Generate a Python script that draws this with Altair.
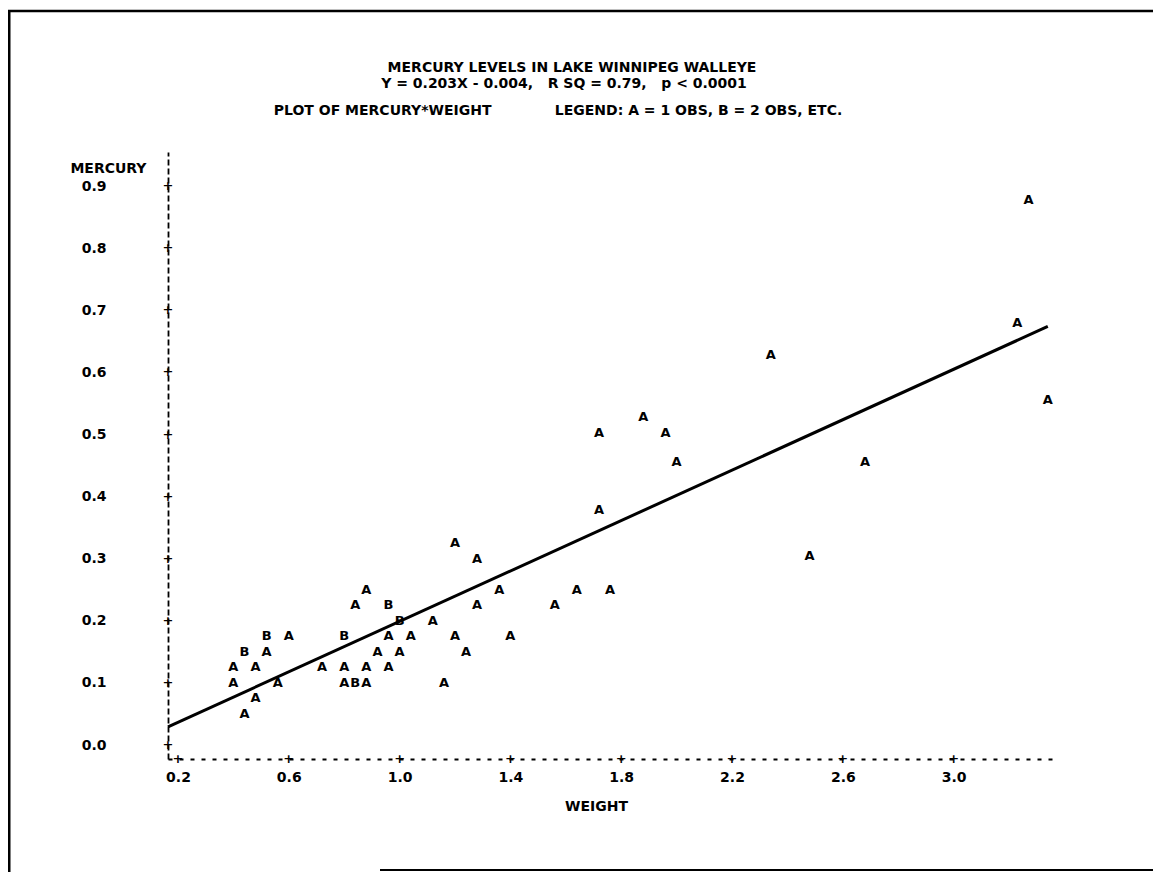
import altair as alt
import pandas as pd

# ---- data (SAS line-printer style scatter) ----
weight = [0.88, 0.84, 0.96, 1.00, 1.12, 1.28, 0.52, 0.60, 0.80, 0.96,
          1.04, 1.20, 0.44, 0.52, 0.92, 1.00, 1.24, 0.40, 0.48, 0.72,
          0.80, 0.88, 0.96, 0.40, 0.56, 0.80, 0.84, 0.88, 1.16, 0.48,
          0.44, 1.20, 1.28, 1.36, 1.56, 1.64, 1.76, 1.40, 3.34, 1.88,
          1.72, 1.96, 2.00, 2.68, 1.72, 2.48, 3.27, 3.23, 2.34]
mercury = [0.250, 0.225, 0.225, 0.200, 0.200, 0.225, 0.175, 0.175, 0.175, 0.175,
           0.175, 0.175, 0.150, 0.150, 0.150, 0.150, 0.150, 0.125, 0.125, 0.125,
           0.125, 0.125, 0.125, 0.100, 0.100, 0.100, 0.100, 0.100, 0.100, 0.075,
           0.050, 0.325, 0.300, 0.250, 0.225, 0.250, 0.250, 0.175, 0.556, 0.528,
           0.502, 0.502, 0.455, 0.455, 0.378, 0.305, 0.878, 0.680, 0.628]
symbol = ["A", "A", "B", "B", "A", "A", "B", "A", "B", "A",
          "A", "A", "B", "A", "A", "A", "A", "A", "A", "A",
          "A", "A", "A", "A", "A", "A", "B", "A", "A", "A",
          "A", "A", "A", "A", "A", "A", "A", "A", "A", "A",
          "A", "A", "A", "A", "A", "A", "A", "A", "A"]

x_ticks = [0.2, 0.6, 1.0, 1.4, 1.8, 2.2, 2.6, 3.0]
y_ticks = [0.0, 0.1, 0.2, 0.3, 0.4, 0.5, 0.6, 0.7, 0.8, 0.9]

SLOPE = 0.203
INTERCEPT = -0.004

NB = "\u00a0"
title_1 = "MERCURY LEVELS IN LAKE WINNIPEG WALLEYE"
title_2 = "Y = 0.203X - 0.004," + NB * 3 + "R SQ = 0.79," + NB * 3 + "p < 0.0001"
title_3 = "PLOT OF MERCURY*WEIGHT" + NB * 13 + "LEGEND: A = 1 OBS, B = 2 OBS, ETC."

X_DOMAIN = [0.164, 3.366]
Y_DOMAIN = [-0.0225, 0.9549]

W, H = 887, 607
FONT = "DejaVu Sans"
FS = 14
TFS = 14

xs = alt.Scale(domain=X_DOMAIN, nice=False, zero=False)
ys = alt.Scale(domain=Y_DOMAIN, nice=False, zero=False)

pts = pd.DataFrame({"weight": weight, "mercury": mercury, "sym": symbol})

x_line = [X_DOMAIN[0], max(weight)]
line_df = pd.DataFrame({"weight": x_line,
                        "mercury": [SLOPE * v + INTERCEPT for v in x_line]})

x_axis = alt.Axis(
    values=x_ticks, format=".1f", title="WEIGHT", grid=False,
    ticks=False, tickSize=0, domainColor="black", domainWidth=1.8,
    domainDash=[4, 7],
    labelFont=FONT, labelFontSize=FS, labelFontWeight="bold", labelColor="black",
    labelPadding=11, labelAlign="center",
    titleFont=FONT, titleFontSize=FS, titleFontWeight="bold", titleColor="black",
    titleX=428, titleY=47, titleAlign="center", titleBaseline="middle",
)
y_axis = alt.Axis(
    values=y_ticks, format=".1f", title="MERCURY", grid=False,
    ticks=False, tickSize=0, domainColor="black", domainWidth=1.8,
    domainDash=[6, 3],
    labelFont=FONT, labelFontSize=FS, labelFontWeight="bold", labelColor="black",
    labelPadding=62, labelAlign="right", labelBaseline="middle",
    titleFont=FONT, titleFontSize=FS, titleFontWeight="bold", titleColor="black",
    titleAngle=0, titleX=-22, titleY=16, titleAlign="right", titleBaseline="middle",
)

points = alt.Chart(pts).mark_text(
    font=FONT, fontSize=13, fontWeight="bold", color="black",
    align="center", baseline="middle",
).encode(
    x=alt.X("weight:Q", scale=xs, axis=x_axis),
    y=alt.Y("mercury:Q", scale=ys, axis=y_axis),
    text="sym:N",
)

reg_line = alt.Chart(line_df).mark_line(color="black", strokeWidth=3).encode(
    x=alt.X("weight:Q", scale=xs),
    y=alt.Y("mercury:Q", scale=ys),
)

ytick_df = pd.DataFrame({"mercury": y_ticks})
xtick_df = pd.DataFrame({"weight": x_ticks})

y_plus = alt.Chart(ytick_df).mark_text(
    text="+", font=FONT, fontSize=13, fontWeight="bold", color="black",
    align="center", baseline="middle",
).encode(x=alt.value(0), y=alt.Y("mercury:Q", scale=ys))

x_plus = alt.Chart(xtick_df).mark_text(
    text="+", font=FONT, fontSize=13, fontWeight="bold", color="black",
    align="center", baseline="middle",
).encode(x=alt.X("weight:Q", scale=xs), y=alt.value(H))


def label(txt, x, y, align="center"):
    return alt.Chart(alt.Data(values=[{"t": txt}])).mark_text(
        font=FONT, fontSize=TFS, fontWeight="bold", color="black",
        align=align, baseline="middle",
    ).encode(x=alt.value(x), y=alt.value(y), text="t:N")


titles = [
    label(title_1, 404, -84),
    label(title_2, 396, -68),
    label(title_3, 390, -41),
]

one = alt.Data(values=[{"k": 1}])
frame_top = alt.Chart(one).mark_rule(color="black", strokeWidth=2.5).encode(
    x=alt.value(-160), x2=alt.value(1000), y=alt.value(-141))
frame_left = alt.Chart(one).mark_rule(color="black", strokeWidth=3).encode(
    x=alt.value(-159), y=alt.value(-141), y2=alt.value(720))
frame_bottom = alt.Chart(one).mark_rule(color="black", strokeWidth=2).encode(
    x=alt.value(212), x2=alt.value(1000), y=alt.value(718))

chart = alt.layer(
    frame_top, frame_left, frame_bottom,
    reg_line, points, y_plus, x_plus, *titles,
).properties(
    width=W, height=H,
    padding={"left": 160, "top": 144, "right": 98, "bottom": 113},
    autosize=alt.AutoSizeParams(type="none"),
    background="white",
).configure_view(stroke=None)

chart.save("out.html", embed_options={"renderer": "svg", "actions": False})
